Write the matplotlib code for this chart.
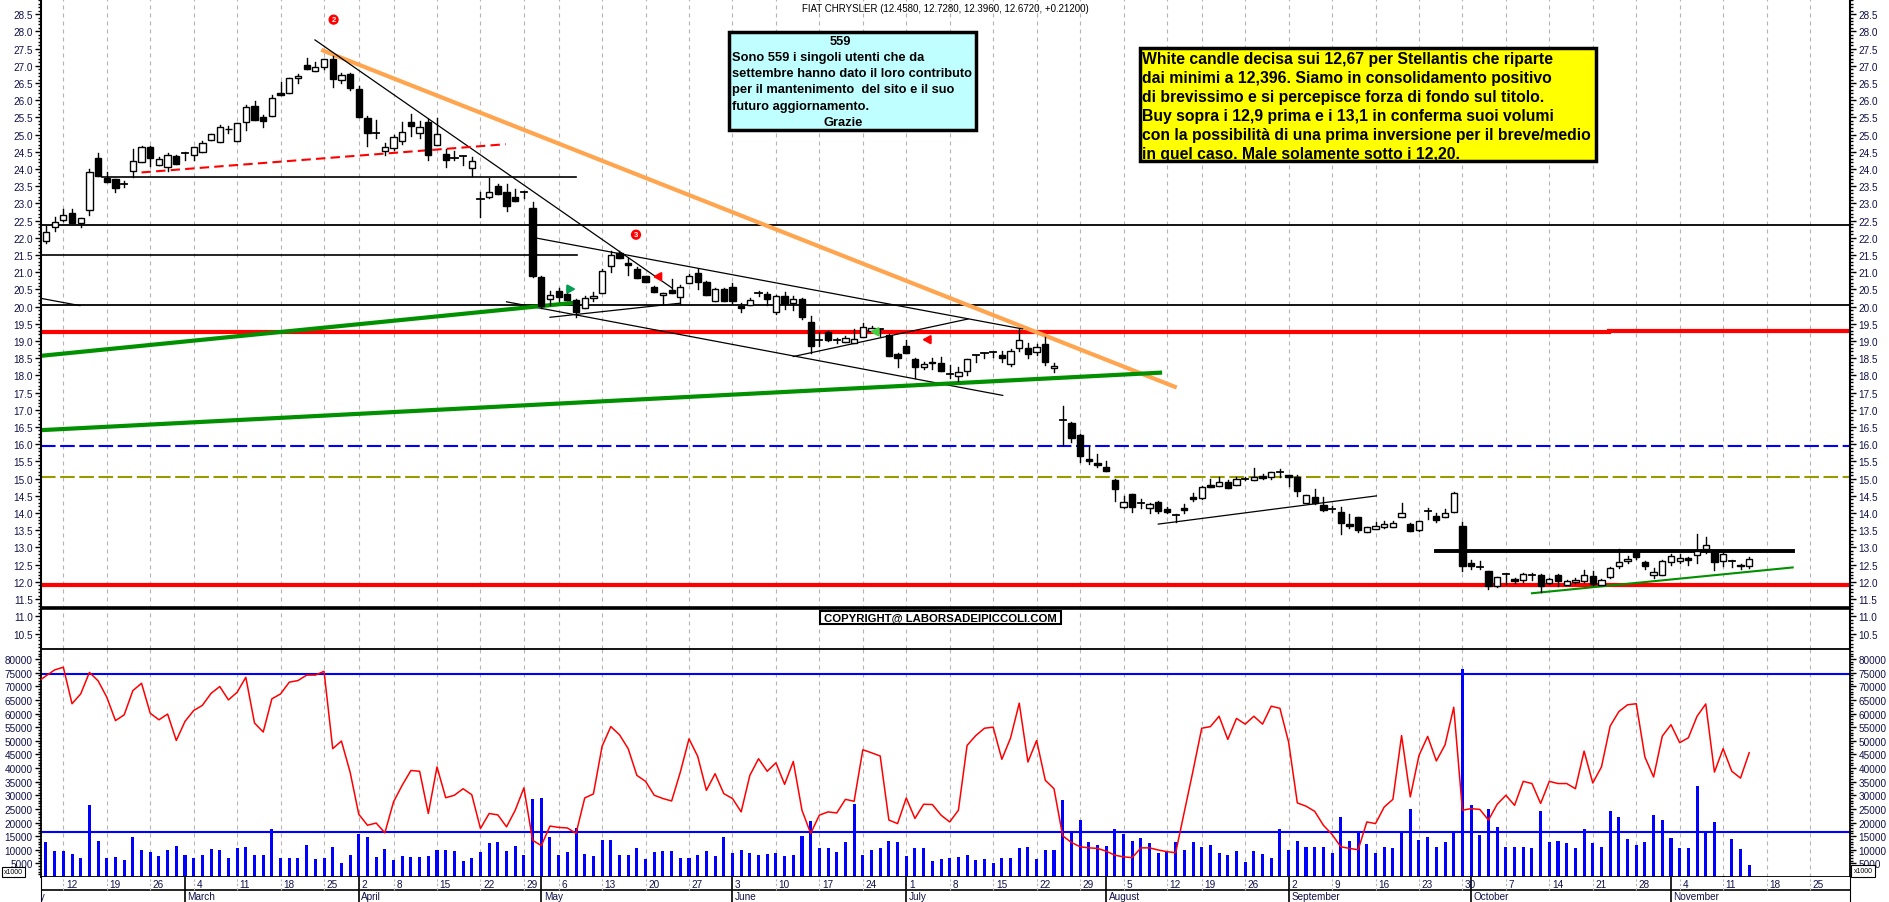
import numpy as np
import pandas as pd
import matplotlib
matplotlib.use('Agg')
import matplotlib.pyplot as plt
from matplotlib.patches import Rectangle
from matplotlib.ticker import FormatStrFormatter

plt.rcParams['font.family'] = ['Liberation Sans', 'DejaVu Sans']

W, H = 1890, 903

# calendario di borsa 2024 (giorni festivi esclusi)
holidays = pd.to_datetime(['2024-03-29', '2024-04-01', '2024-05-01', '2024-08-15'])
days = pd.bdate_range('2024-02-01', '2024-11-29')
days = days[~days.isin(holidays)]
pos = np.arange(len(days)) - days.get_loc(pd.Timestamp('2024-02-12'))

# candele dal 8 febbraio al 14 novembre
opens = [21.90, 22.30, 22.52, 22.71, 22.42, 22.82, 24.31, 23.74, 23.70, 23.55,
         23.95, 24.21, 24.63, 24.13, 24.07, 24.37, 24.46, 24.41, 24.48, 24.84,
         24.77, 25.15, 24.80, 25.36, 25.82, 25.50, 25.53, 26.20, 26.20, 26.63,
         27.02, 26.85, 26.95, 27.19, 26.58, 26.75, 26.32, 25.48, 25.06, 24.51,
         24.60, 24.82, 25.36, 25.06, 25.36, 24.71, 24.43, 24.32, 24.37, 24.03,
         23.15, 23.18, 23.50, 23.32, 23.18, 23.34, 22.88, 20.85, 20.22, 20.46,
         20.36, 20.20, 19.95, 20.24, 20.41, 21.17, 21.56, 21.27, 21.09, 20.88,
         20.56, 20.34, 20.49, 20.27, 20.68, 20.97, 20.72, 20.17, 20.51, 20.56,
         20.01, 20.05, 20.39, 20.37, 19.83, 20.30, 20.10, 20.22, 19.56, 19.03,
         19.25, 19.03, 18.96, 18.94, 19.11, 19.30, 19.35, 19.17, 18.62, 18.87,
         18.48, 18.24, 18.40, 18.35, 18.04, 17.97, 18.14, 18.59, 18.65, 18.67,
         18.60, 18.33, 18.80, 18.79, 18.67, 18.91, 18.22, 16.69, 16.62, 16.27,
         15.56, 15.45, 15.34, 14.97, 14.18, 14.55, 14.27, 14.15, 14.31, 14.12,
         13.94, 14.15, 14.46, 14.43, 14.81, 14.78, 14.89, 14.83, 14.99, 14.96,
         15.07, 15.04, 15.18, 15.11, 15.04, 14.28, 14.46, 14.23, 14.11, 14.02,
         13.68, 13.88, 13.46, 13.55, 13.61, 13.61, 13.88, 13.68, 13.52, 14.04,
         13.92, 13.88, 14.02, 13.63, 12.55, 12.44, 12.32, 11.87, 12.23, 12.08,
         12.06, 12.21, 12.21, 11.97, 12.21, 11.91, 11.99, 12.02, 12.18, 11.92,
         12.13, 12.45, 12.61, 12.88, 12.58, 12.21, 12.20, 12.57, 12.61, 12.69,
         12.79, 12.95, 12.86, 12.62, 12.60, 12.50, 12.458]
highs = [22.35, 22.60, 22.84, 22.84, 22.58, 23.99, 24.46, 23.92, 23.72, 23.64,
         24.58, 24.68, 24.68, 24.35, 24.45, 24.40, 24.48, 24.65, 24.82, 25.02,
         25.28, 25.26, 25.33, 25.86, 25.98, 25.56, 26.14, 26.52, 26.64, 26.75,
         27.22, 27.10, 27.19, 27.28, 26.78, 26.80, 26.42, 25.55, 25.42, 24.76,
         24.98, 25.37, 25.60, 25.40, 25.45, 25.48, 24.58, 24.53, 24.38, 24.35,
         23.34, 23.74, 23.57, 23.56, 23.42, 23.36, 23.03, 20.88, 20.46, 20.55,
         20.61, 20.22, 20.30, 20.42, 21.10, 21.62, 21.62, 21.40, 21.15, 20.90,
         20.60, 20.41, 20.80, 20.62, 20.95, 21.10, 20.75, 20.55, 20.55, 20.70,
         20.10, 20.25, 20.45, 20.42, 20.35, 20.42, 20.30, 20.25, 19.73, 19.25,
         19.30, 19.10, 19.15, 19.35, 19.52, 19.45, 19.36, 19.20, 18.64, 19.04,
         18.50, 18.38, 18.50, 18.53, 18.30, 18.25, 18.49, 18.60, 18.66, 18.68,
         18.70, 18.78, 19.35, 18.95, 18.90, 19.11, 18.35, 17.10, 16.66, 16.30,
         15.96, 15.72, 15.51, 14.98, 14.49, 14.56, 14.40, 14.30, 14.35, 14.17,
         13.97, 14.27, 14.57, 14.80, 14.99, 15.04, 14.97, 15.05, 15.05, 15.30,
         15.14, 15.18, 15.28, 15.11, 15.11, 14.54, 14.70, 14.46, 14.20, 14.17,
         13.96, 13.88, 13.61, 13.75, 13.78, 13.78, 14.29, 13.70, 13.78, 14.14,
         14.00, 14.11, 14.62, 13.75, 12.65, 12.60, 12.33, 12.15, 12.27, 12.12,
         12.27, 12.25, 12.22, 12.10, 12.22, 12.05, 12.10, 12.35, 12.33, 12.07,
         12.42, 12.95, 12.75, 12.90, 12.62, 12.40, 12.63, 12.80, 12.80, 12.71,
         13.39, 13.30, 12.88, 12.90, 12.65, 12.52, 12.728]
lows = [21.85, 22.20, 22.48, 22.42, 22.32, 22.65, 23.80, 23.63, 23.34, 23.48,
        23.76, 24.21, 24.10, 24.13, 23.93, 24.15, 24.26, 24.26, 24.48, 24.84,
        24.77, 25.06, 24.80, 25.14, 25.43, 25.22, 25.53, 26.15, 26.20, 26.50,
        26.92, 26.85, 26.90, 26.38, 26.50, 26.30, 25.50, 24.67, 24.91, 24.42,
        24.55, 24.72, 24.95, 24.90, 24.27, 24.70, 24.07, 24.27, 24.13, 23.79,
        22.61, 23.16, 23.27, 22.79, 23.06, 23.15, 20.85, 19.95, 20.05, 20.15,
        20.20, 19.69, 19.95, 20.16, 20.41, 21.00, 21.40, 20.93, 20.82, 20.71,
        20.43, 20.07, 20.39, 20.07, 20.68, 20.50, 20.34, 20.17, 20.17, 20.10,
        19.85, 20.05, 20.30, 20.05, 19.80, 19.93, 19.90, 19.65, 18.66, 18.85,
        19.00, 18.95, 18.96, 18.94, 19.11, 19.30, 19.15, 18.57, 18.24, 18.65,
        17.94, 18.20, 18.20, 18.12, 17.92, 17.85, 18.02, 18.40, 18.50, 18.55,
        18.40, 18.28, 18.70, 18.50, 18.60, 18.30, 18.10, 15.98, 16.07, 15.49,
        15.43, 15.33, 15.21, 14.36, 14.14, 14.03, 14.15, 14.00, 14.00, 14.00,
        13.73, 14.00, 14.34, 14.40, 14.75, 14.78, 14.74, 14.83, 14.95, 14.96,
        15.00, 14.99, 15.06, 14.79, 14.50, 14.28, 14.27, 14.07, 14.02, 13.39,
        13.58, 13.45, 13.46, 13.53, 13.56, 13.61, 13.88, 13.49, 13.48, 13.84,
        13.73, 13.88, 14.02, 12.32, 12.38, 12.38, 11.80, 11.85, 11.95, 11.98,
        12.00, 12.05, 11.70, 11.95, 11.88, 11.90, 11.98, 12.00, 11.92, 11.90,
        12.10, 12.40, 12.55, 12.66, 12.38, 12.10, 12.20, 12.50, 12.55, 12.50,
        12.55, 12.85, 12.35, 12.45, 12.42, 12.38, 12.396]
closes = [22.16, 22.47, 22.66, 22.42, 22.58, 23.90, 23.80, 23.63, 23.44, 23.56,
          24.24, 24.63, 24.32, 24.28, 24.40, 24.15, 24.46, 24.65, 24.75, 25.02,
          25.21, 25.17, 25.33, 25.79, 25.43, 25.40, 26.06, 26.15, 26.64, 26.69,
          26.92, 26.95, 27.19, 26.61, 26.72, 26.36, 25.50, 25.04, 25.06, 24.64,
          24.93, 25.08, 25.26, 25.23, 24.42, 25.02, 24.27, 24.32, 24.37, 24.24,
          23.14, 23.32, 23.27, 22.93, 23.06, 23.34, 20.90, 20.03, 20.34, 20.27,
          20.20, 19.83, 20.26, 20.30, 21.04, 21.49, 21.40, 21.21, 20.82, 20.71,
          20.43, 20.41, 20.39, 20.56, 20.89, 20.72, 20.34, 20.51, 20.17, 20.17,
          19.95, 20.20, 20.39, 20.22, 20.30, 20.07, 20.22, 19.69, 18.86, 19.04,
          19.04, 19.04, 19.08, 19.06, 19.40, 19.38, 19.35, 18.57, 18.50, 18.65,
          18.24, 18.33, 18.35, 18.14, 18.05, 18.09, 18.49, 18.59, 18.65, 18.67,
          18.52, 18.70, 19.04, 18.62, 18.82, 18.38, 18.28, 16.70, 16.19, 15.67,
          15.52, 15.40, 15.21, 14.71, 14.31, 14.18, 14.28, 14.27, 14.06, 14.02,
          13.95, 14.10, 14.40, 14.75, 14.75, 14.89, 14.74, 14.98, 15.00, 15.06,
          15.01, 15.18, 15.19, 15.04, 14.63, 14.54, 14.29, 14.08, 14.11, 13.70,
          13.63, 13.52, 13.61, 13.63, 13.68, 13.70, 13.99, 13.49, 13.78, 14.05,
          13.80, 13.99, 14.57, 12.45, 12.45, 12.43, 11.87, 12.13, 12.23, 12.02,
          12.24, 12.21, 11.87, 12.08, 12.03, 12.03, 12.05, 12.21, 11.94, 12.05,
          12.39, 12.58, 12.68, 12.71, 12.47, 12.28, 12.61, 12.74, 12.69, 12.64,
          12.90, 13.06, 12.57, 12.81, 12.60, 12.47, 12.672]

# volumi (x1000)
volumes = [12750, 9450, 9450, 8300, 6900, 26400, 13100, 7100, 7500, 6200,
           14800, 9900, 9000, 7600, 9900, 11300, 8000, 6900, 8200, 10400,
           9900, 6900, 10800, 10900, 8100, 8100, 17600, 7100, 7100, 7100,
           11650, 6500, 6900, 10900, 5200, 7900, 15800, 14600, 7500, 10200,
           6200, 7600, 7200, 7200, 7600, 9900, 9900, 9450, 6000, 7100,
           9000, 12400, 12750, 9450, 11200, 7900, 28700, 29000, 14500, 7900,
           9000, 18000, 8300, 7600, 13600, 13600, 8000, 8000, 10800, 6500,
           9000, 9450, 9450, 6900, 6900, 8000, 9450, 7750, 14500, 8700,
           9800, 8900, 8000, 8600, 8900, 7750, 8200, 14900, 20400, 10500,
           10500, 9300, 12700, 26900, 8000, 9800, 10800, 13100, 12700, 7600,
           10600, 10800, 6000, 6700, 7000, 7500, 8200, 6100, 6500, 5000,
           7100, 7100, 10500, 11100, 6700, 9800, 9800, 28100, 16700, 20800,
           12700, 11900, 11500, 17700, 15600, 13300, 14400, 12300, 8700, 9300,
           12900, 9800, 12700, 11100, 11900, 8700, 8200, 9400, 5600, 9400,
           8600, 7100, 17700, 9800, 13100, 11100, 10900, 11100, 8800, 21900,
           13100, 16000, 12200, 8900, 11100, 10500, 16600, 24900, 13500, 14800,
           11100, 13000, 16700, 76300, 26300, 15300, 24900, 18500, 11100, 11100,
           11100, 10800, 24300, 12700, 13300, 12300, 10800, 17800, 12600, 11100,
           24400, 22200, 14100, 11600, 12700, 22600, 21000, 14400, 10800, 10800,
           33400, 17000, 20100, 300, 13800, 10400, 4300]

# linea rossa del pannello volumi (dal 7 febbraio)
osc = [71500, 73800, 76000, 77000, 63600, 67200, 75100, 72000, 66000, 57400,
       59500, 68400, 71100, 60100, 57700, 59800, 50100, 57100, 61100, 63000,
       67400, 69900, 65000, 67800, 73300, 56500, 53200, 65400, 67200, 71500,
       72100, 74100, 74100, 75500, 47100, 49900, 38500, 23000, 19000, 19800,
       16200, 27600, 33700, 39100, 38800, 23300, 40400, 29100, 30000, 32400,
       30200, 17800, 23300, 22800, 18400, 24500, 32700, 13500, 11500, 18700,
       18200, 18000, 16000, 29000, 30500, 48000, 55200, 52200, 47100, 37300,
       35100, 30000, 28800, 27900, 38500, 50700, 44300, 31800, 37900, 30600,
       28800, 23900, 37300, 43400, 38800, 41900, 34000, 42400, 24500, 16000,
       22700, 23900, 23500, 28500, 27800, 46700, 45600, 44400, 20900, 19600,
       29000, 21500, 26700, 26600, 22700, 20200, 24500, 48300, 51900, 54600,
       55000, 43200, 51000, 63800, 42200, 50100, 35500, 32400, 15100, 12700,
       11100, 10700, 10500, 9500, 8000, 7400, 7100, 10700, 10700, 9900,
       9300, 8900, 24000, 39000, 54600, 55200, 59000, 50500, 58200, 56100,
       59000, 56100, 62700, 61900, 49500, 27200, 26000, 24100, 19000, 15600,
       11100, 10500, 10000, 20200, 19600, 25700, 28500, 51900, 29400, 44600,
       51600, 42600, 48500, 62300, 24500, 25100, 24800, 20900, 26700, 30000,
       26300, 35100, 34300, 27000, 35100, 34300, 34300, 32400, 46200, 34500,
       40400, 55400, 60700, 63200, 63600, 44000, 36700, 51700, 55900, 49300,
       51100, 59000, 63500, 38500, 47100, 38800, 36300, 45600]

month_names = ['February', 'March', 'April', 'May', 'June', 'July', 'August',
               'September', 'October', 'November']

first = days.get_loc(pd.Timestamp('2024-02-08'))
cx = pos[first:first + len(opens)]
ox = pos[first - 1:first - 1 + len(osc)]

iso_week = days.isocalendar().week.values
week_x = pos[np.r_[True, np.diff(iso_week) != 0]]
week_day = days[np.r_[True, np.diff(iso_week) != 0]].day
month_x = pos[np.r_[True, np.diff(days.month) != 0]]

fig = plt.figure(figsize=(W / 100, H / 100), dpi=100)
L, R = 41, 1850


def rect(x0, y0, x1, y1):
    return [x0 / W, 1 - y1 / H, (x1 - x0) / W, (y1 - y0) / H]


ax = fig.add_axes(rect(L, 0, R, 650))
axv = fig.add_axes(rect(L, 650, R, 878))
axd = fig.add_axes(rect(L, 878, R, 903))
xlim = (-2.57, 205.6)
for a in (ax, axv, axd):
    a.set_xlim(*xlim)
    a.set_xticks([])
ax.set_ylim(10.05, 28.94)
axv.set_ylim(0, 83680)
axd.set_ylim(0, 25)
axd.set_yticks([])

lab_col = '#10104a'
grid_kw = dict(color='#b4b4b4', lw=0.8, ls=(0, (3.6, 3.6)), zorder=0)
for x in week_x:
    if xlim[0] < x < xlim[1]:
        ax.axvline(x, **grid_kw)
        axv.axvline(x, **grid_kw)

# assi prezzo
ax.set_yticks(np.arange(10.5, 28.51, 0.5))
ax.set_yticks(np.arange(10.1, 28.95, 0.1), minor=True)
ax.yaxis.set_major_formatter(FormatStrFormatter('%.1f'))
ax.tick_params(axis='y', which='both', left=True, right=True, labelleft=True,
               labelright=True, direction='out', labelsize=7.2,
               labelcolor=lab_col, pad=1.5, width=1)
ax.tick_params(axis='y', which='major', length=4.5)
ax.tick_params(axis='y', which='minor', length=2)
for s in ('top', 'bottom'):
    ax.spines[s].set_visible(False)
for s in ('left', 'right'):
    ax.spines[s].set_linewidth(1.5)

# assi volumi
axv.set_yticks(np.arange(5000, 80001, 5000))
axv.set_yticks(np.arange(1000, 83001, 1000), minor=True)
axv.yaxis.set_major_formatter(FormatStrFormatter('%d'))
axv.tick_params(axis='y', which='both', left=True, right=True, labelleft=True,
                labelright=True, direction='out', labelsize=7.2,
                labelcolor=lab_col, pad=1.5, width=1)
axv.tick_params(axis='y', which='major', length=4.5)
axv.tick_params(axis='y', which='minor', length=2)
for s in axv.spines.values():
    s.set_linewidth(1.3)

# linee orizzontali
ax.axhline(22.36, color='black', lw=1.3, zorder=1)
ax.axhline(20.06, color='black', lw=1.3, zorder=1)
ax.plot([xlim[0], 177.9], [19.27, 19.27], color='red', lw=3, zorder=1)
ax.plot([177.9, xlim[1]], [19.30, 19.30], color='red', lw=3, zorder=1)
ax.axhline(15.96, color='#0000ff', lw=1.5, ls=(0, (7, 2.2)), zorder=1)
ax.axhline(15.04, color='#999900', lw=1.5, ls=(0, (7, 2.2)), zorder=1)
ax.axhline(11.92, color='red', lw=3, zorder=1)
ax.axhline(11.25, color='black', lw=2.6, zorder=1)
ax.plot([xlim[0], 59.1], [21.50, 21.50], color='black', lw=1.2, zorder=1)
ax.plot([4.5, 59.0], [23.78, 23.78], color='black', lw=1.2, zorder=1)
ax.plot([158.0, 199.0], [12.90, 12.90], color='black', lw=2.8, zorder=2)

# trendline
ax.plot([29.9, 127.9], [27.44, 17.67], color='#ffa54f', lw=3, zorder=2)
ax.plot([28.96, 70.05], [27.75, 20.54], color='black', lw=0.9, zorder=2)
ax.plot([54.05, 110.4], [22.01, 19.35], color='black', lw=0.9, zorder=2)
ax.plot([51.0, 108.1], [20.14, 17.42], color='black', lw=0.9, zorder=2)
ax.plot([xlim[0], 1.9], [20.24, 20.03], color='black', lw=0.9, zorder=2)
ax.plot([56.0, 71.0], [19.69, 20.10], color='black', lw=0.9, zorder=2)
ax.plot([84.0, 104.1], [18.55, 19.64], color='black', lw=0.9, zorder=2)
ax.plot([126.0, 151.1], [13.68, 14.50], color='black', lw=0.9, zorder=2)
ax.plot([xlim[0], 59.1], [18.57, 20.12], color='#009000', lw=3, zorder=2)
ax.plot([xlim[0], 126.2], [16.41, 18.08], color='#009000', lw=3, zorder=2)
ax.plot([169.0, 199.0], [11.67, 12.42], color='#009000', lw=1.5, zorder=2)
ax.plot([9.0, 50.9], [23.90, 24.72], color='red', lw=1.5,
        ls=(0, (4.5, 2.5)), zorder=2)

# candele
for x, o, h, l, c in zip(cx, opens, highs, lows, closes):
    ax.plot([x, x], [l, h], color='black', lw=1, zorder=3)
    if abs(c - o) < 0.015:
        ax.plot([x - 0.36, x + 0.36], [c, c], color='black', lw=1.3, zorder=4)
    else:
        ax.add_patch(Rectangle((x - 0.36, min(o, c)), 0.72, abs(c - o),
                               facecolor='white' if c > o else 'black',
                               edgecolor='black', lw=1, zorder=4))

# frecce e marcatori
arr = dict(arrowstyle='-|>,head_width=0.25,head_length=0.45', lw=1.6)
ax.annotate('', xy=(59.3, 20.51), xytext=(57.7, 20.51),
            arrowprops=dict(color='#00a050', **arr), zorder=6)
ax.annotate('', xy=(67.5, 20.87), xytext=(69.1, 20.87),
            arrowprops=dict(color='red', **arr), zorder=6)
ax.annotate('', xy=(92.5, 19.27), xytext=(94.1, 19.27),
            arrowprops=dict(color='#40d040', **arr), zorder=6)
ax.annotate('', xy=(98.5, 19.04), xytext=(100.1, 19.04),
            arrowprops=dict(color='red', **arr), zorder=6)
for x, y, t in [(31.1, 28.34, '2'), (65.9, 22.09, '3')]:
    ax.text(x, y, t, color='white', fontsize=5.5, weight='bold', ha='center',
            va='center', zorder=6,
            bbox=dict(boxstyle='circle,pad=0.12', fc='red', ec='red'))

# pannello volumi
axv.bar(cx, volumes, width=0.35, color='#0000ff', zorder=2)
axv.plot(ox, osc, color='red', lw=1.1, zorder=3)
axv.axhline(74530, color='#0000ff', lw=1.5, zorder=1)
axv.axhline(16350, color='#0000ff', lw=1.5, zorder=1)

# striscia date
axd.axhline(12.3, color='black', lw=1.2)
for s in ('top', 'bottom'):
    axd.spines[s].set_visible(False)
for x, d in zip(week_x, week_day):
    if xlim[0] < x < xlim[1]:
        axd.plot([x, x], [12.3, 25], color='#b4b4b4', lw=0.8, ls=(0, (2, 2)))
        axd.text(x + 0.3, 18.2, str(d), fontsize=7.2, color=lab_col,
                 ha='left', va='center', clip_on=True)
for x, name in zip(month_x, month_names):
    axd.plot([x, x], [0, 25], color='black', lw=1.2)
    axd.text(x + 0.3, 5.8, name, fontsize=7.2, color=lab_col, ha='left',
             va='center', clip_on=True)

# testi e riquadri
title = 'FIAT CHRYSLER (12.4580, 12.7280, 12.3960, 12.6720, +0.21200)'
fig.text(945 / W, 1 - 8.5 / H, title, ha='center', va='center', fontsize=7)


def fbox(x0, y0, x1, y1, fc, lw=2.5):
    fig.add_artist(Rectangle((x0 / W, 1 - y1 / H), (x1 - x0) / W,
                             (y1 - y0) / H, transform=fig.transFigure,
                             facecolor=fc, edgecolor='black', lw=lw, zorder=5))


fbox(729, 33, 976, 131, '#c0ffff')
cyan_lines = ['Sono 559 i singoli utenti che da',
              'settembre hanno dato il loro contributo',
              'per il mantenimento  del sito e il suo',
              'futuro aggiornamento.']
fig.text(840 / W, 1 - 41.7 / H, '559', ha='center', va='center', fontsize=9.3,
         weight='bold', zorder=6)
for k, t in enumerate(cyan_lines):
    fig.text(732 / W, 1 - (57.5 + 16.5 * k) / H, t, ha='left', va='center',
             fontsize=9.3, weight='bold', zorder=6)
fig.text(843 / W, 1 - 123.5 / H, 'Grazie', ha='center', va='center',
         fontsize=9.3, weight='bold', zorder=6)

fbox(1140, 49, 1596, 162, '#ffff00')
yellow_lines = ['White candle decisa sui 12,67 per Stellantis che riparte',
                'dai minimi a 12,396. Siamo in consolidamento positivo',
                'di brevissimo e si percepisce forza di fondo sul titolo.',
                'Buy sopra i 12,9 prima e i 13,1 in conferma suoi volumi',
                'con la possibilità di una prima inversione per il breve/medio',
                'in quel caso. Male solamente sotto i 12,20.']
for k, t in enumerate(yellow_lines):
    fig.text(1142 / W, 1 - (59.5 + 18.9 * k) / H, t, ha='left', va='center',
             fontsize=11.3, weight='bold', zorder=6)

fbox(820, 612, 1061, 625, 'white', lw=1.5)
fig.text(940.5 / W, 1 - 618.5 / H, 'COPYRIGHT@ LABORSADEIPICCOLI.COM',
         ha='center', va='center', fontsize=8.2, weight='bold', zorder=6)

fbox(2, 868, 25, 878, 'white', lw=0.8)
fig.text(13.5 / W, 1 - 873 / H, 'x1000', ha='center', va='center',
         fontsize=5, zorder=6)
fbox(1851, 866, 1875, 878, 'white', lw=0.8)
fig.text(1863 / W, 1 - 872 / H, 'x1000', ha='center', va='center',
         fontsize=5, zorder=6)

fig.savefig('out.png', dpi=100)
